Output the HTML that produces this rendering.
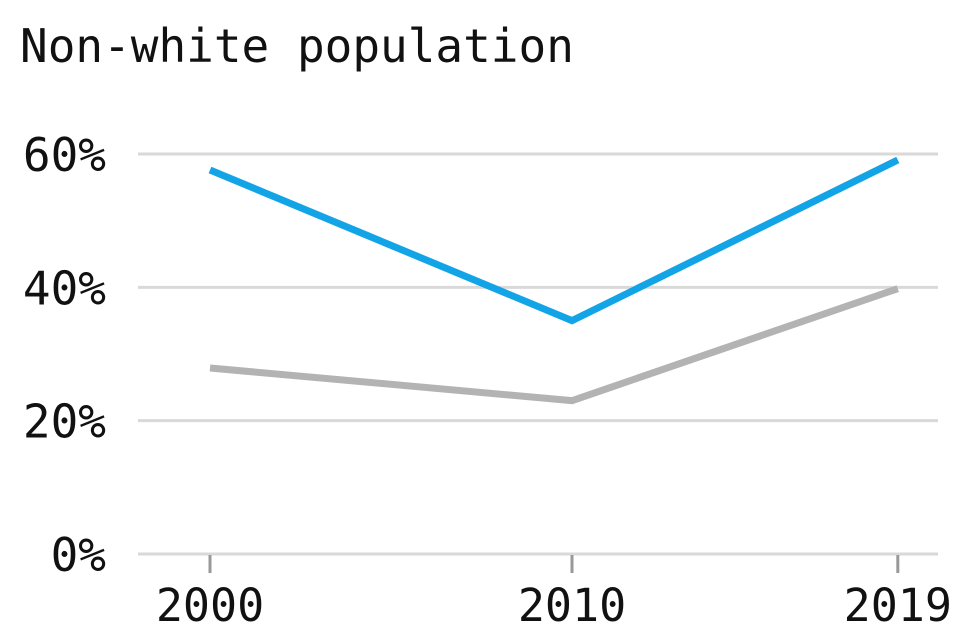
<!DOCTYPE html>
<html><head><meta charset="utf-8"><style>
html,body{margin:0;padding:0;background:#fff;}
svg{display:block;}
text{font-family:"DejaVu Sans Mono","Liberation Mono",monospace;fill:#111;}
</style></head><body>
<svg width="976" height="644" viewBox="0 0 976 644">
<text x="20" y="62" font-size="46">Non-white population</text>
<g id="grid"></g><g id="series"></g>
</svg>
<script>
const years=[2000,2010,2019];
const tickValues=[0,20,40,60];
const tickLabels=["0%","20%","40%","60%"];
const seriesA=[57.6,35.0,59.1];
const seriesB=[27.9,23.0,39.8];
const NS="http://www.w3.org/2000/svg";
const x=y=>210+(y-2000)*36.2;
const yS=v=>554-v*6.667;
const grid=document.getElementById('grid'),ser=document.getElementById('series');
function mk(tag,attrs,parent){const e=document.createElementNS(NS,tag);for(const k in attrs)e.setAttribute(k,attrs[k]);parent.appendChild(e);return e;}
tickValues.forEach((v,i)=>{
 const l=mk('line',{x1:138,x2:938,y1:yS(v),y2:yS(v),stroke:'#d9d9d9','stroke-width':3},grid);
 
 
 const t=mk('text',{x:106,y:yS(v)+17,'text-anchor':'end','font-size':46},grid);
 t.textContent=tickLabels[i];
 
 
});
years.forEach(yr=>{
 const l=mk('line',{x1:x(yr),x2:x(yr),y1:555,y2:573,stroke:'#999','stroke-width':3},grid);
 
 
 const t=mk('text',{x:x(yr),y:621,'text-anchor':'middle','font-size':45},grid);
 t.textContent=yr;
 
 
});
function line(vals,color,name){
 const p=mk('polyline',{points:vals.map((v,i)=>x(years[i])+','+yS(v)).join(' '),fill:'none',stroke:color,'stroke-width':7},ser);
 
 
}
line(seriesB,'#b3b3b3','series-gray-line');
line(seriesA,'#12a4e6','series-blue-line');
</script>
</body></html>
